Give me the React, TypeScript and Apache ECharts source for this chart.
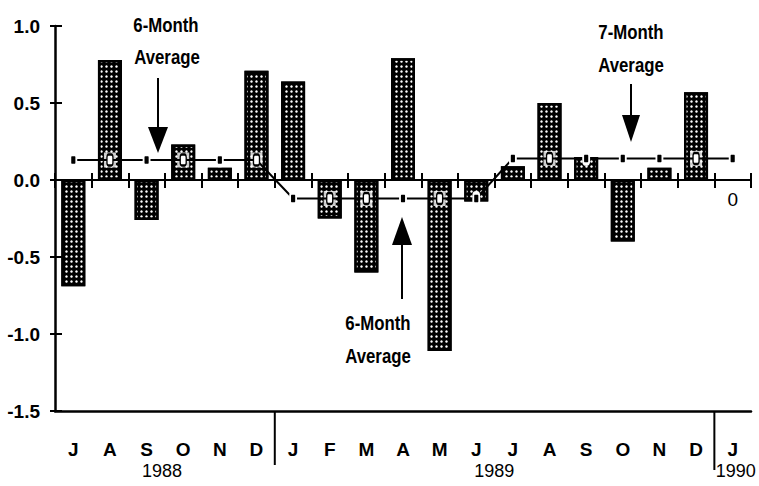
import React, { useEffect, useRef } from 'react';
import * as echarts from 'echarts';

const months = ['J', 'A', 'S', 'O', 'N', 'D', 'J', 'F', 'M', 'A', 'M', 'J', 'J', 'A', 'S', 'O', 'N', 'D', 'J'];
const changes = [-0.69, 0.78, -0.26, 0.23, 0.08, 0.71, 0.64, -0.25, -0.6, 0.79, -1.11, -0.14, 0.09, 0.5, 0.15, -0.4, 0.08, 0.57, 0];
const averages = [0.13, 0.13, 0.13, 0.13, 0.13, 0.13, -0.12, -0.12, -0.12, -0.12, -0.12, -0.12, 0.14, 0.14, 0.14, 0.14, 0.14, 0.14, 0.14];
const yearLabels = ['1988', '1989', '1990'];
const yearLabelIndex = [2, 11, 18];
const yearStartIndex = [6, 18];
const yMin = -1.5;
const yMax = 1.0;
const yStep = 0.5;

const FONT = '"Liberation Sans", Arial, sans-serif';

export default function App() {
  const ref = useRef<HTMLDivElement>(null);
  useEffect(() => {
    if (!ref.current) return;
    const chart = echarts.init(ref.current, null, { renderer: 'svg' });
    const covered = changes.map((c, i) => {
      const a = averages[i];
      return Math.sign(c) === Math.sign(a) && Math.abs(c) >= Math.abs(a) + 0.04;
    });
    const yearPad = [31, 36, 6];
    const monthData = months.map((m, i) => {
      const k = yearLabelIndex.indexOf(i);
      return k >= 0 ? { value: m, textStyle: { padding: [0, 0, 0, yearPad[k]] } } : { value: m };
    });
    const catAxisBase = { type: 'category', data: months, boundaryGap: true, gridIndex: 0 };
    const annot = (text: string, x: number, y: number) => ({
      type: 'text', x, y, scaleX: 0.8,
      style: { text, font: `bold 21px ${FONT}`, fill: '#000', align: 'center', verticalAlign: 'middle' },
    });
    const option: any = {
      animation: false,
      backgroundColor: '#fff',
      grid: { left: 55, right: 8, top: 26, bottom: 75, containLabel: false },
      xAxis: [
        {
          ...catAxisBase,
          position: 'bottom',
          axisLine: { show: true, onZero: true, onZeroAxisIndex: 0, lineStyle: { color: '#000', width: 2 } },
          axisTick: { show: true, inside: false, length: 8, lineStyle: { color: '#000', width: 2 } },
          axisLabel: { show: false },
          splitLine: { show: false },
        },
        {
          ...catAxisBase,
          position: 'top',
          axisLine: { show: false, onZero: true, onZeroAxisIndex: 0 },
          axisTick: { show: true, inside: false, length: 7, lineStyle: { color: '#000', width: 2 } },
          axisLabel: { show: false },
          splitLine: { show: false },
        },
        {
          ...catAxisBase,
          position: 'bottom',
          axisLine: { show: true, onZero: false, lineStyle: { color: '#000', width: 2.5 } },
          axisTick: { show: false },
          axisLabel: {
            show: true, interval: 0, margin: 29, color: '#000',
            fontFamily: FONT, fontWeight: 'bold', fontSize: 19,
          },
          splitLine: { show: false },
        },
        {
          ...catAxisBase,
          data: monthData,
          position: 'bottom',
          axisLine: { show: false, onZero: false },
          axisTick: { show: false },
          axisLabel: {
            show: true,
            interval: (i: number) => yearLabelIndex.indexOf(i) >= 0,
            formatter: (_v: string, i: number) => {
              const k = yearLabelIndex.indexOf(i);
              return k >= 0 ? yearLabels[k] : '';
            },
            margin: 51, color: '#000', fontFamily: FONT, fontSize: 18,
          },
          splitLine: { show: false },
        },
      ],
      yAxis: [
        {
          type: 'value', min: yMin, max: yMax, interval: yStep, position: 'left',
          axisLine: { show: true, onZero: false, lineStyle: { color: '#000', width: 2.5 } },
          axisTick: { show: true, inside: false, length: 5, lineStyle: { color: '#000', width: 2 } },
          axisLabel: {
            color: '#000', fontFamily: FONT, fontWeight: 'bold', fontSize: 19, margin: 15,
            formatter: (v: number) => v.toFixed(1),
          },
          splitLine: { show: false },
        },
        {
          type: 'value', min: yMin, max: yMax, interval: yStep, position: 'left', offset: 0,
          axisLine: { show: false, onZero: false },
          axisTick: { show: true, inside: true, length: 7, lineStyle: { color: '#000', width: 2 } },
          axisLabel: { show: false },
          splitLine: { show: false },
        },
      ],
      series: [
        {
          type: 'bar',
          xAxisIndex: 0,
          yAxisIndex: 0,
          barWidth: 24,
          z: 2,
          data: changes.map((v) =>
            v === 0
              ? {
                  value: v,
                  itemStyle: { borderWidth: 0 },
                  label: { show: true, position: 'bottom', distance: 10, formatter: '0', color: '#000', fontFamily: FONT, fontSize: 19 },
                }
              : v
          ),
          itemStyle: {
            color: '#000',
            borderColor: '#000',
            borderWidth: 2.5,
            decal: {
              symbol: 'circle',
              symbolSize: 0.85,
              color: '#fff',
              dashArrayX: [3, 2],
              dashArrayY: [3, 2],
              rotation: 0,
            },
          },
        },
        {
          type: 'scatter',
          xAxisIndex: 0,
          yAxisIndex: 0,
          z: 3,
          symbol: 'rect',
          symbolSize: [12, 15],
          itemStyle: { color: '#fff' },
          data: averages.map((a, i) => (covered[i] ? a : '-')),
        },
        {
          type: 'line',
          xAxisIndex: 0,
          yAxisIndex: 0,
          z: 4,
          symbol: 'roundRect',
          symbolSize: [6, 11],
          showSymbol: true,
          lineStyle: { color: '#000', width: 2 },
          data: averages.map((a, i) => ({
            value: a,
            itemStyle: covered[i]
              ? { color: '#fff', borderColor: '#000', borderWidth: 1.8 }
              : { color: '#000', borderColor: '#fff', borderWidth: 2.5 },
          })),
        },
        {
          type: 'custom',
          xAxisIndex: 2,
          yAxisIndex: 0,
          z: 5,
          data: yearStartIndex.map((i) => [i, yMin]),
          renderItem: (params: any, api: any) => {
            const p = api.coord([api.value(0), api.value(1)]);
            const bw = api.size([1, 0])[0];
            const x = p[0] - bw / 2;
            const len = params.dataIndex === 0 ? 54 : 59;
            return {
              type: 'line',
              shape: { x1: x, y1: p[1], x2: x, y2: p[1] + len },
              style: { stroke: '#000', lineWidth: 2 },
            };
          },
        },
      ],
      graphic: [
        annot('6-Month', 166, 25),
        annot('Average', 167, 57),
        { type: 'line', shape: { x1: 158, y1: 78, x2: 158, y2: 130 }, style: { stroke: '#000', lineWidth: 2 } },
        { type: 'polygon', shape: { points: [[148, 127], [168, 127], [158, 153]] }, style: { fill: '#000' } },

        annot('6-Month', 378, 323),
        annot('Average', 378, 356),
        { type: 'line', shape: { x1: 402, y1: 299, x2: 402, y2: 242 }, style: { stroke: '#000', lineWidth: 2 } },
        { type: 'polygon', shape: { points: [[392, 245], [412, 245], [402, 217]] }, style: { fill: '#000' } },

        annot('7-Month', 631, 32),
        annot('Average', 631, 65),
        { type: 'line', shape: { x1: 631, y1: 84, x2: 631, y2: 118 }, style: { stroke: '#000', lineWidth: 2 } },
        { type: 'polygon', shape: { points: [[622, 115], [640, 115], [631, 142]] }, style: { fill: '#000' } },
      ],
    };
    chart.setOption(option);
    return () => chart.dispose();
  }, []);
  return <div ref={ref} style={{ width: 759, height: 486, position: 'absolute', left: 0, top: 0 }} />;
}
